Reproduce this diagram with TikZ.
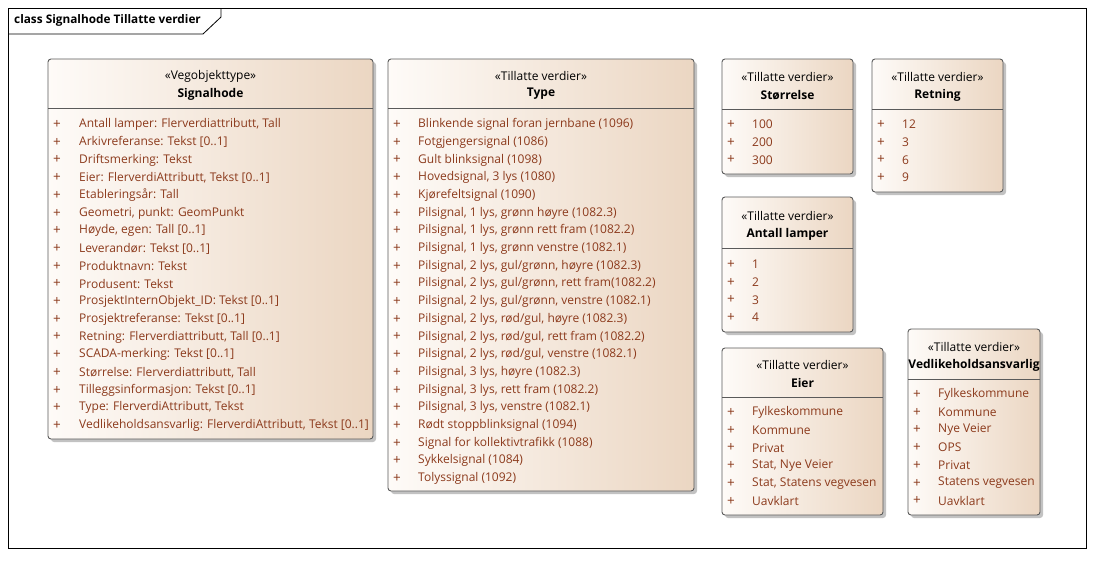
\documentclass[tikz,border=0pt]{standalone}
\usepackage{fontspec}
\setmainfont{Open Sans}
\begin{document}
\definecolor{boxleft}{HTML}{FEFBF8}
\definecolor{boxright}{HTML}{EBD6C2}
\definecolor{boxborder}{HTML}{5A5A5A}
\definecolor{itemcol}{HTML}{8C3A1C}
\definecolor{shadowcol}{HTML}{9A9A9A}
\tikzset{
  frameline/.style={draw=black, line width=0.8pt},
  classbody/.style={rounded corners=3pt, left color=boxleft, right color=boxright, draw=boxborder, line width=0.9pt},
  classshadow/.style={rounded corners=3pt, fill=shadowcol, opacity=0.6},
  sepline/.style={draw=boxborder, line width=0.8pt},
  stereo/.style={font=\fontsize{12}{14}\selectfont, text=black, inner sep=0pt},
  classname/.style={font=\fontsize{12}{14}\selectfont\bfseries, text=black, inner sep=0pt},
  itemtext/.style={font=\fontsize{12}{14}\selectfont, text=itemcol, anchor=west, inner sep=0pt},
  plusmark/.style={font=\fontsize{13.5}{14}\selectfont, text=itemcol, anchor=center, inner sep=0pt},
}
% #1 node name, #2 left, #3 top, #4 right, #5 bottom, #6 separator y, #7 class name, #8 stereotype
\newcommand{\umlclassbox}[8]{%
  \fill[classshadow] (#2+3,#3+3) rectangle (#4+3,#5+3);
  \shade[classbody] (#2,#3) rectangle (#4,#5);
  \draw[sepline] (#2,#6) -- (#4,#6);
  \node[stereo] (#1-st) at ({(#2+#4)/2},#6-32) {«#8»};
  \node[classname] (#1) at ({(#2+#4)/2},#6-14) {#7};
}
% #1 node name, #2 plus x, #3 text x, #4 first row y, #5 list of items
\newcommand{\umlitems}[5]{%
  \foreach \t [count=\i] in {#5} {
    \node[plusmark] (#1-p\i) at (#2,{#4+1.5+(\i-1)*17.7}) {+};
    \node[itemtext] (#1-a\i) at (#3,{#4+1.5+(\i-1)*17.7}) {\t};
  }
}
\begin{tikzpicture}[x=1pt,y=-1pt]
\useasboundingbox (0,0) rectangle (1094,560);
\fill[white] (0,0) rectangle (1094,560);

% diagram frame with name tab
\draw[frameline] (8,8) rectangle (1086,548);
\draw[frameline] (8,34) -- (203,34) -- (221,17) -- (221,8);
\node[anchor=west, inner sep=0pt, font=\fontsize{11.8}{13}\selectfont\bfseries] (frametitle) at (14,20.5) {class Signalhode Tillatte verdier};

% Signalhode
\umlclassbox{signalhode}{48}{59}{373}{439}{108}{Signalhode}{Vegobjekttype}
\umlitems{signalhode}{57}{79}{123}{
  {Antall lamper: Flerverdiattributt, Tall},
  {Arkivreferanse: Tekst [0..1]},
  {Driftsmerking: Tekst},
  {Eier: FlerverdiAttributt, Tekst [0..1]},
  {Etableringsår: Tall},
  {Geometri, punkt: GeomPunkt},
  {Høyde, egen: Tall [0..1]},
  {Leverandør: Tekst [0..1]},
  {Produktnavn: Tekst},
  {Produsent: Tekst},
  {ProsjektInternObjekt\_ID: Tekst [0..1]},
  {Prosjektreferanse: Tekst [0..1]},
  {Retning: Flerverdiattributt, Tall [0..1]},
  {SCADA-merking: Tekst [0..1]},
  {Størrelse: Flerverdiattributt, Tall},
  {Tilleggsinformasjon: Tekst [0..1]},
  {Type: FlerverdiAttributt, Tekst},
  {Vedlikeholdsansvarlig: FlerverdiAttributt, Tekst [0..1]}}

% Type
\umlclassbox{type}{388}{59}{694}{491}{108}{Type}{Tillatte verdier}
\umlitems{type}{397}{418}{123}{
  {Blinkende signal foran jernbane (1096)},
  {Fotgjengersignal (1086)},
  {Gult blinksignal (1098)},
  {Hovedsignal, 3 lys (1080)},
  {Kjørefeltsignal (1090)},
  {Pilsignal, 1 lys, grønn høyre (1082.3)},
  {Pilsignal, 1 lys, grønn rett fram (1082.2)},
  {Pilsignal, 1 lys, grønn venstre (1082.1)},
  {Pilsignal, 2 lys, gul/grønn, høyre (1082.3)},
  {Pilsignal, 2 lys, gul/grønn, rett fram(1082.2)},
  {Pilsignal, 2 lys, gul/grønn, venstre (1082.1)},
  {Pilsignal, 2 lys, rød/gul, høyre (1082.3)},
  {Pilsignal, 2 lys, rød/gul, rett fram (1082.2)},
  {Pilsignal, 2 lys, rød/gul, venstre (1082.1)},
  {Pilsignal, 3 lys, høyre (1082.3)},
  {Pilsignal, 3 lys, rett fram (1082.2)},
  {Pilsignal, 3 lys, venstre (1082.1)},
  {Rødt stoppblinksignal (1094)},
  {Signal for kollektivtrafikk (1088)},
  {Sykkelsignal (1084)},
  {Tolyssignal (1092)}}

% Størrelse
\umlclassbox{storrelse}{722}{59}{853}{174}{109}{Størrelse}{Tillatte verdier}
\umlitems{storrelse}{731}{752}{123}{{100},{200},{300}}

% Retning
\umlclassbox{retning}{872}{59}{1003}{192}{109}{Retning}{Tillatte verdier}
\umlitems{retning}{881}{902}{123}{{12},{3},{6},{9}}

% Antall lamper
\umlclassbox{antall}{722}{197}{853}{332}{248}{Antall lamper}{Tillatte verdier}
\umlitems{antall}{731}{752}{263}{{1},{2},{3},{4}}

% Eier
\umlclassbox{eier}{722}{348}{883}{515}{397}{Eier}{Tillatte verdier}
\umlitems{eier}{731}{752}{411}{
  {Fylkeskommune},{Kommune},{Privat},{Stat, Nye Veier},{Stat, Statens vegvesen},{Uavklart}}

% Vedlikeholdsansvarlig
\umlclassbox{vedlikehold}{908}{329}{1040}{515}{379}{Vedlikeholdsansvarlig}{Tillatte verdier}
\umlitems{vedlikehold}{917}{938}{393}{
  {Fylkeskommune},{Kommune},{Nye Veier},{OPS},{Privat},{Statens vegvesen},{Uavklart}}
\end{tikzpicture}
\end{document}
